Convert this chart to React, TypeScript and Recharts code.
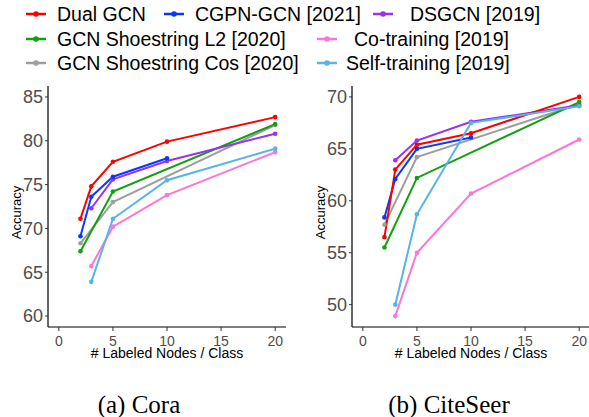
import { Label, Line, LineChart, XAxis, YAxis } from "recharts";

type Point = Record<string, number | null>;

const labeledNodes = [2, 3, 5, 10, 20];
const xTicks = [0, 5, 10, 15, 20];

// Cora
const coraDual = [71.1, 74.8, 77.6, 79.9, 82.7];
const coraCgpn = [69.1, 73.6, 75.9, 78.0, null];
const coraDsgcn = [null, 72.3, 75.6, 77.7, 80.8];
const coraL2 = [67.4, null, 74.2, null, 81.9];
const coraCos = [68.3, null, 73.0, null, 81.8];
const coraCoTrain = [null, 65.7, 70.2, 73.8, 78.7];
const coraSelfTrain = [null, 63.9, 71.1, 75.5, 79.1];
const coraYTicks = [60, 65, 70, 75, 80, 85];

// CiteSeer
const citeDual = [56.5, 63.0, 65.4, 66.5, 70.0];
const citeCgpn = [58.4, 62.1, 65.0, 66.1, null];
const citeDsgcn = [null, 63.9, 65.8, 67.6, 69.2];
const citeL2 = [55.5, null, 62.2, null, 69.5];
const citeCos = [57.7, null, 64.2, null, 69.3];
const citeCoTrain = [null, 48.9, 55.0, 60.7, 65.9];
const citeSelfTrain = [null, 50.0, 58.7, 67.5, 69.1];
const citeYTicks = [50, 55, 60, 65, 70];

const series = [
  { key: "cos", name: "GCN Shoestring Cos [2020]", color: "#9e9e9e" },
  { key: "l2", name: "GCN Shoestring L2 [2020]", color: "#12a012" },
  { key: "coTrain", name: "Co-training [2019]", color: "#ff74d4" },
  { key: "dsgcn", name: "DSGCN [2019]", color: "#9b30f0" },
  { key: "cgpn", name: "CGPN-GCN [2021]", color: "#0838ff" },
  { key: "dual", name: "Dual GCN", color: "#ff0000" },
  { key: "selfTrain", name: "Self-training [2019]", color: "#56b4e9" }
];

// legend slots: [key, markerX, textX, rowCenterY]
const legendSlots: [string, number, number, number][] = [
  ["dual", 26, 57, 14],
  ["cgpn", 164, 195, 14],
  ["dsgcn", 373, 410, 14],
  ["l2", 26, 57, 38.5],
  ["coTrain", 317, 354, 38.5],
  ["cos", 26, 57, 62.5],
  ["selfTrain", 317, 346, 62.5]
];

function buildRows(cols: Record<string, (number | null)[]>): Point[] {
  return labeledNodes.map((x, i) => {
    const row: Point = { x };
    Object.keys(cols).forEach((k) => {
      row[k] = cols[k][i];
    });
    return row;
  });
}

const coraData = buildRows({
  dual: coraDual,
  cgpn: coraCgpn,
  dsgcn: coraDsgcn,
  l2: coraL2,
  cos: coraCos,
  coTrain: coraCoTrain,
  selfTrain: coraSelfTrain
});

const citeData = buildRows({
  dual: citeDual,
  cgpn: citeCgpn,
  dsgcn: citeDsgcn,
  l2: citeL2,
  cos: citeCos,
  coTrain: citeCoTrain,
  selfTrain: citeSelfTrain
});

const sans = '"Liberation Sans", Arial, sans-serif';

function Panel({ data, yDomain, yTicks, width }: { data: Point[]; yDomain: [number, number]; yTicks: number[]; width: number }) {
  return (
    <LineChart width={width} height={380} data={data} margin={{ top: 86, right: 0, bottom: 0, left: 0 }}>
      <XAxis
        dataKey="x"
        type="number"
        domain={[-1, 21]}
        ticks={xTicks}
        allowDataOverflow
        height={53}
        axisLine={{ stroke: "#000", strokeWidth: 1.2 }}
        tickLine={{ stroke: "#333" }}
        tickSize={4}
        tickMargin={5}
        tick={{ fontSize: 14, fill: "#4d4d4d", fontFamily: sans }}
      >
        <Label value="# Labeled Nodes / Class" position="insideTop" offset={21} style={{ fontSize: 14, fill: "#000", fontFamily: sans }} />
      </XAxis>
      <YAxis
        type="number"
        domain={yDomain}
        ticks={yTicks}
        allowDataOverflow
        width={48}
        axisLine={{ stroke: "#000", strokeWidth: 1.2 }}
        tickLine={{ stroke: "#333" }}
        tickSize={3}
        tickMargin={2}
        tick={{ fontSize: 18, fill: "#4d4d4d", fontFamily: sans }}
      >
        <Label value="Accuracy" angle={-90} position="insideLeft" offset={16} dy={6} style={{ textAnchor: "middle", fontSize: 13, fill: "#000", fontFamily: sans }} />
      </YAxis>
      {series.map((s) => (
        <Line
          key={s.key}
          dataKey={s.key}
          type="linear"
          stroke={s.color}
          strokeWidth={2}
          dot={{ r: 2.3, fill: s.color, stroke: s.color, strokeWidth: 0 }}
          connectNulls
          isAnimationActive={false}
        />
      ))}
    </LineChart>
  );
}

function LegendBlock() {
  return (
    <>
      {legendSlots.map(([key, mx, tx, cy]) => {
        const s = series.find((d) => d.key === key)!;
        return (
          <div key={key}>
            <svg width={22} height={10} style={{ position: "absolute", left: mx - 1, top: cy - 5 }}>
              <line x1={1} x2={21} y1={5} y2={5} stroke={s.color} strokeWidth={2.5} />
              <circle cx={11} cy={5} r={2.8} fill={s.color} />
            </svg>
            <div
              style={{
                position: "absolute",
                left: tx,
                top: cy - 12,
                height: 24,
                lineHeight: "24px",
                fontSize: 19.5,
                fontFamily: sans,
                color: "#000",
                whiteSpace: "pre"
              }}
            >
              {s.name}
            </div>
          </div>
        );
      })}
    </>
  );
}

const captionStyle = {
  position: "absolute" as const,
  top: 393,
  height: 24,
  lineHeight: "24px",
  fontSize: 25,
  fontFamily: '"Liberation Serif", "Times New Roman", serif',
  color: "#000",
  textAlign: "center" as const,
  width: 200
};

export default function App() {
  return (
    <div style={{ position: "absolute", left: 0, top: 0, width: 589, height: 417, background: "#fff", overflow: "hidden" }}>
      <div style={{ position: "absolute", left: 0, top: 0 }}>
        <Panel data={coraData} yDomain={[58.75, 86.25]} yTicks={coraYTicks} width={286} />
      </div>
      <div style={{ position: "absolute", left: 304, top: 0 }}>
        <Panel data={citeData} yDomain={[47.85, 71.05]} yTicks={citeYTicks} width={286} />
      </div>
      <LegendBlock />
      <div style={{ ...captionStyle, left: 39 }}>(a) Cora</div>
      <div style={{ ...captionStyle, left: 349 }}>(b) CiteSeer</div>
    </div>
  );
}
